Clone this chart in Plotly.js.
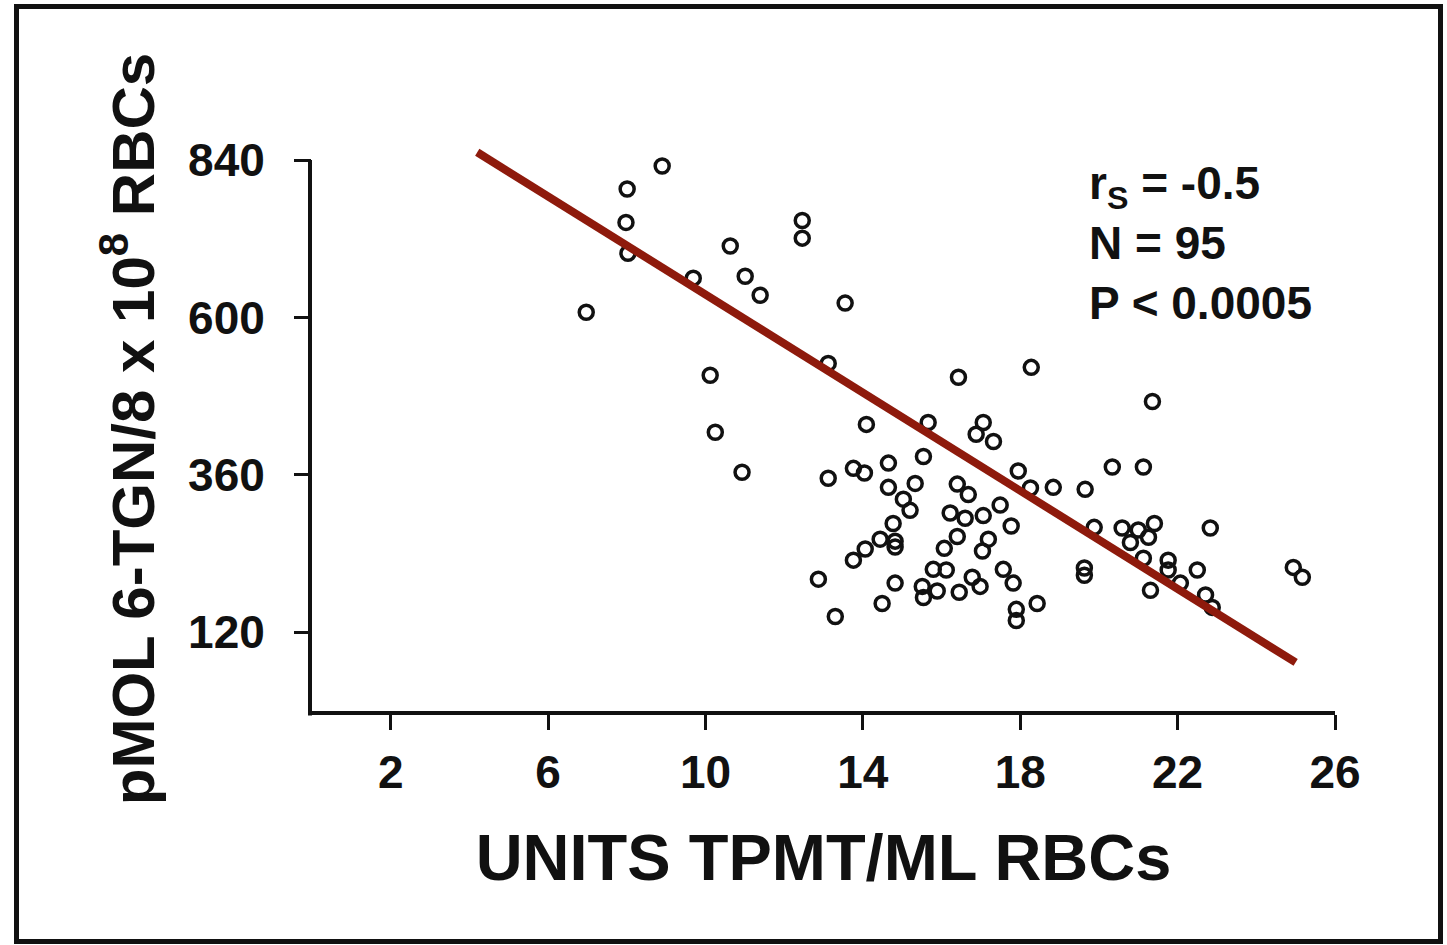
<!DOCTYPE html>
<html>
<head>
<meta charset="utf-8">
<script src="https://cdn.plot.ly/plotly-3.0.1.min.js"></script>
<style>
  html, body { margin: 0; padding: 0; background: #ffffff; }
  #wrap { position: relative; width: 1447px; height: 945px; }
  #chart { position: absolute; left: 0; top: 0; width: 1447px; height: 945px; }
  #frame { position: absolute; left: 14px; top: 4px; width: 1429px; height: 940px;
           box-sizing: border-box; border: 5px solid #111; pointer-events: none; }
</style>
</head>
<body>
<div id="wrap"><div id="chart"></div><div id="frame"></div></div>
<script>
// TPMT activity (units/mL RBCs) vs 6-TGN (pmol/8x10^8 RBCs)
const tpmt = [
  8.90, 8.01, 7.98, 8.03, 6.97, 9.69, 10.63, 11.01, 11.39, 12.46, 12.46, 13.55,
  10.12, 10.25, 10.93,
  13.12, 16.43, 18.28, 14.09, 15.66, 17.06, 16.88, 17.32, 15.54, 14.65, 13.76, 14.04,
  13.12, 17.95, 18.26, 18.84, 19.65, 14.65, 15.33, 16.40, 16.68, 15.03, 15.20, 17.49,
  16.22, 16.60, 17.06, 19.88, 14.77, 17.77, 16.40, 17.19, 14.44, 14.82, 14.06, 13.76,
  16.07, 17.04, 17.57, 17.82, 19.63, 19.63, 12.87, 14.82, 15.79, 16.12, 15.51, 15.89,
  15.54, 16.45, 16.78, 16.98, 14.49, 18.43, 17.90, 17.90, 13.30,
  21.36, 20.34, 21.13, 20.59, 21.00, 21.41, 21.26, 20.80, 22.83, 21.13, 21.76, 21.76,
  22.50, 21.31, 22.07, 22.71, 22.88, 24.94, 25.17, 14.82
];
const tgn = [
  831, 796, 745, 698, 608, 660, 709, 663, 634, 748, 721, 622,
  512, 425, 364,
  530, 509, 524, 437, 440, 440, 422, 411, 388, 378, 370, 363,
  355, 366, 340, 341, 338, 341, 347, 346, 330, 323, 306, 314,
  302, 294, 298, 280, 286, 282, 266, 262, 262, 250, 247, 230,
  248, 244, 216, 195, 218, 207, 201, 195, 216, 215, 190, 183,
  173, 181, 204, 190, 164, 164, 155, 138, 144,
  472, 372, 372, 279, 276, 286, 265, 257, 279, 233, 230, 215,
  215, 184, 195, 177, 158, 219, 204, 259
];
// Regression line end points
const fitX = [4.2, 25.0];
const fitY = [852, 74];

const xTicks = [2, 6, 10, 14, 18, 22, 26];
const yTicks = [120, 360, 600, 840];
const xRange = [0, 26];
const yRange = [0, 860];

const FONT = 'Liberation Sans, Arial, sans-serif';
const INK = '#111111';

const traces = [
  {
    type: 'scatter', mode: 'markers', x: tpmt, y: tgn,
    marker: { symbol: 'circle-open', size: 14, color: INK, line: { color: INK, width: 3.5 } },
    hoverinfo: 'x+y', showlegend: false
  },
  {
    type: 'scatter', mode: 'lines', x: fitX, y: fitY,
    line: { color: '#8e1a0c', width: 8 },
    hoverinfo: 'skip', showlegend: false
  }
];

const layout = {
  width: 1447, height: 945,
  margin: { l: 312, r: 112, t: 147, b: 234 },
  paper_bgcolor: '#ffffff', plot_bgcolor: '#ffffff',
  font: { family: FONT, color: INK },
  showlegend: false,
  xaxis: {
    range: xRange, tickmode: 'array', tickvals: xTicks, ticktext: xTicks.map(String),
    ticks: 'outside', ticklen: 15, tickwidth: 3, tickcolor: INK,
    showline: true, linewidth: 4, linecolor: INK,
    showgrid: false, zeroline: false, fixedrange: true,
    ticklabelstandoff: 3,
    tickfont: { family: FONT, size: 46, color: INK, weight: 'bold' },
    title: { text: 'UNITS TPMT/ML RBCs', font: { family: FONT, size: 65, color: INK, weight: 'bold' }, standoff: 38 }
  },
  yaxis: {
    range: yRange, tickmode: 'array', tickvals: yTicks, ticktext: yTicks.map(String),
    ticks: 'outside', ticklen: 17, tickwidth: 3, tickcolor: INK,
    showline: false, showgrid: false, zeroline: false, fixedrange: true,
    ticklabelstandoff: 20,
    tickfont: { family: FONT, size: 46, color: INK, weight: 'bold' },
    title: { text: 'pMOL 6-TGN/8 x 10<sup>8</sup> RBCs', font: { family: FONT, size: 60, color: INK, weight: 'bold' }, standoff: 14 }
  },
  shapes: [
    {
      type: 'line', xref: 'paper', yref: 'paper',
      xsizemode: 'pixel', xanchor: 0, x0: -2, x1: -2,
      y0: -0.008, y1: yTicks[yTicks.length - 1] / yRange[1],
      line: { color: INK, width: 4 }
    }
  ],
  annotations: [
    {
      xref: 'x', yref: 'y', x: 19.7, y: 848, xanchor: 'left', yanchor: 'top',
      align: 'left', showarrow: false,
      text: 'r<sub>S</sub> = -0.5<br>N = 95<br>P &lt; 0.0005',
      font: { family: FONT, size: 46, color: INK, weight: 'bold' }
    }
  ]
};

Plotly.newPlot('chart', traces, layout, { displayModeBar: false, staticPlot: true });
</script>
</body>
</html>
